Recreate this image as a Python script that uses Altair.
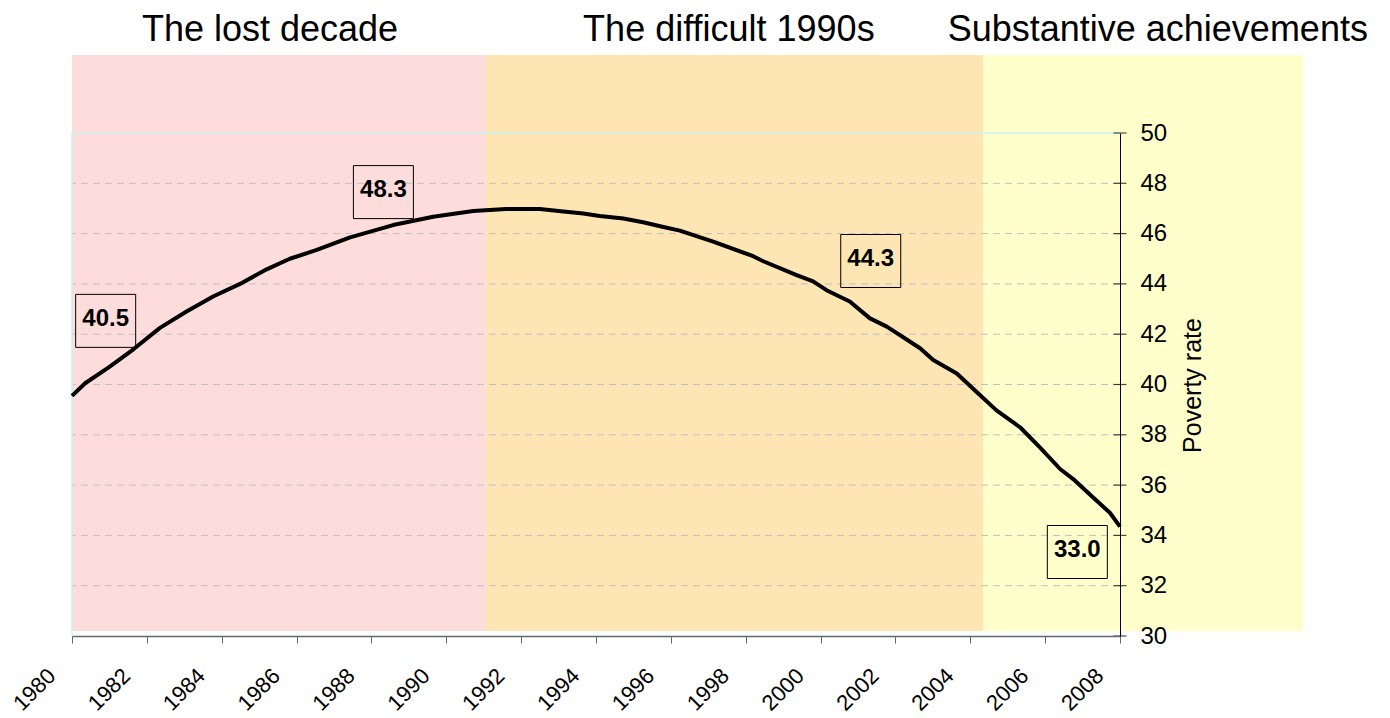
import altair as alt
import pandas as pd

# ---- data ----
years = [1980.0, 1980.35, 1981.0, 1981.64, 1982.35, 1983.06, 1983.77, 1984.49,
         1985.2, 1985.82, 1986.54, 1987.43, 1988.58, 1989.65, 1990.72, 1991.6,
         1992.5, 1993.0, 1993.66, 1994.1, 1994.73, 1995.26, 1995.8, 1996.24,
         1997.13, 1998.2, 1998.47, 1999.36, 1999.8, 2000.16, 2000.78, 2001.32,
         2001.77, 2002.66, 2003.01, 2003.64, 2004.17, 2004.7, 2005.33, 2005.86,
         2006.4, 2006.75, 2007.29, 2007.73, 2008.0]
rate = [39.55, 40.05, 40.7, 41.4, 42.25, 42.9, 43.5, 44.0,
        44.58, 45.0, 45.35, 45.85, 46.34, 46.67, 46.9, 46.98,
        46.98, 46.9, 46.8, 46.7, 46.6, 46.45, 46.26, 46.12,
        45.68, 45.1, 44.9, 44.35, 44.1, 43.75, 43.3, 42.63,
        42.3, 41.44, 40.97, 40.44, 39.7, 38.97, 38.3, 37.5,
        36.64, 36.24, 35.5, 34.9, 34.35]

band_names = ["The lost decade", "The difficult 1990s", "Substantive achievements"]
band_start = [1980.0, 1991.06, 2004.34]
band_end = [1991.06, 2004.34, 2012.9]
band_bottom = [30.2, 30.2, 30.2]
band_top = [53.1, 53.1, 53.1]
band_colors = ["#FDDDDC", "#FEE5B4", "#FFFFCC"]
band_label_x = [1985.29, 1997.55, 2009.01]
band_label_y = [53.65, 53.65, 53.65]

ann_text = ["40.5", "48.3", "44.3", "33.0"]
ann_x = [1980.9, 1988.32, 2001.34, 2006.86]
ann_y = [42.53, 47.65, 44.91, 33.34]

x_ticks = [1980, 1982, 1984, 1986, 1988, 1990, 1992, 1994, 1996, 1998,
           2000, 2002, 2004, 2006, 2008]
x_tick_labels = ["1980", "1982", "1984", "1986", "1988", "1990", "1992", "1994",
                 "1996", "1998", "2000", "2002", "2004", "2006", "2008"]
y_ticks = [30, 32, 34, 36, 38, 40, 42, 44, 46, 48, 50]
grid_dashed = [32, 34, 36, 38, 40, 42, 44, 46, 48]
grid_top = [50]

FONT = "Liberation Sans"

line_df = pd.DataFrame({"year": years, "rate": rate})
bands_df = pd.DataFrame({"name": band_names, "start": band_start, "end": band_end,
                         "bottom": band_bottom, "top": band_top,
                         "lx": band_label_x, "ly": band_label_y})
ann_df = pd.DataFrame({"t": ann_text, "ax": ann_x, "ay": ann_y})
grid_df = pd.DataFrame({"v": grid_dashed})
top_df = pd.DataFrame({"v": grid_top})
ytick_df = pd.DataFrame({"v": y_ticks, "tx": [x_ticks[-1]] * len(y_ticks)})
xlab_df = pd.DataFrame({"x": x_ticks, "lab": x_tick_labels, "y": [y_ticks[0]] * len(x_ticks)})
edge_df = pd.DataFrame({"x": [x_ticks[0]], "y": [y_ticks[0]], "y2": [y_ticks[-1]]})

xs = alt.Scale(domain=[x_ticks[0], x_ticks[-1]], nice=False, zero=False)
ys = alt.Scale(domain=[y_ticks[0], y_ticks[-1]], nice=False, zero=False)

X_AXIS = alt.Axis(
    values=x_ticks, title=None, grid=False, zindex=1, labels=False,
    domainColor="#5E6B6B", domainWidth=1.5, tickColor="#5E6B6B", tickSize=7,
)
Y_AXIS = alt.Axis(
    orient="right", values=y_ticks, grid=False, ticks=False, zindex=1,
    title="Poverty rate", titleFont=FONT, titleFontSize=25, titleFontWeight="normal",
    titleColor="black", titleAngle=270, titleX=72, titleY=252,
    titleAlign="center", titleBaseline="middle",
    labelFont=FONT, labelFontSize=24, labelColor="black", labelPadding=20,
    labelBaseline="middle", labelOverlap=False, labelBound=False,
    domainColor="black", domainWidth=1,
)


def X(field):
    return alt.X(field, scale=xs, axis=X_AXIS, title=None)


def Y(field):
    return alt.Y(field, scale=ys, axis=Y_AXIS, title="Poverty rate")


bands = alt.Chart(bands_df).mark_rect().encode(
    x=X("start:Q"),
    x2="end:Q",
    y=Y("bottom:Q"),
    y2="top:Q",
    color=alt.Color("name:N", scale=alt.Scale(domain=band_names, range=band_colors), legend=None),
)

band_labels = alt.Chart(bands_df).mark_text(
    font=FONT, fontSize=36, align="center", baseline="alphabetic", color="black"
).encode(
    x=X("lx:Q"),
    y=Y("ly:Q"),
    text="name:N",
)

grid = alt.Chart(grid_df).mark_rule(color="#C0C0C0", strokeWidth=1, strokeDash=[7, 5]).encode(
    y=Y("v:Q")
)
grid_top_rule = alt.Chart(top_df).mark_rule(color="#CDEFF0", strokeWidth=1.5).encode(
    y=Y("v:Q")
)
left_edge = alt.Chart(edge_df).mark_rule(color="#CDEFF0", strokeWidth=1.5).encode(
    x=X("x:Q"),
    y=Y("y:Q"),
    y2="y2:Q",
)

line = alt.Chart(line_df).mark_line(color="black", strokeWidth=4, strokeJoin="round").encode(
    x=X("year:Q"),
    y=Y("rate:Q"),
)

yticks = alt.Chart(ytick_df).mark_tick(orient="horizontal", size=13, thickness=1.2, color="black").encode(
    x=X("tx:Q"),
    y=Y("v:Q"),
)

xlabels = alt.Chart(xlab_df).mark_text(
    font=FONT, fontSize=22, angle=315, align="right", baseline="middle",
    dx=-40, dy=11.5, color="black"
).encode(
    x=X("x:Q"),
    y=Y("y:Q"),
    text="lab:N",
)

ann_box = alt.Chart(ann_df).mark_rect(width=60, height=53, fill="transparent",
                                      stroke="black", strokeWidth=1).encode(
    x=X("ax:Q"),
    y=Y("ay:Q"),
)
ann_txt = alt.Chart(ann_df).mark_text(font=FONT, fontSize=24, fontWeight="bold",
                                      align="center", baseline="middle", dy=-2,
                                      color="black").encode(
    x=X("ax:Q"),
    y=Y("ay:Q"),
    text="t:N",
)

chart = alt.layer(
    bands, band_labels, grid, grid_top_rule, left_edge, line, yticks, xlabels, ann_box, ann_txt
).properties(
    width=1048, height=503,
    autosize=alt.AutoSizeParams(type="none"),
    padding={"left": 64, "top": 125, "right": 262, "bottom": 80},
    background="white",
).configure_view(stroke=None)

chart.save("out.html", embed_options={"renderer": "svg", "actions": False})
